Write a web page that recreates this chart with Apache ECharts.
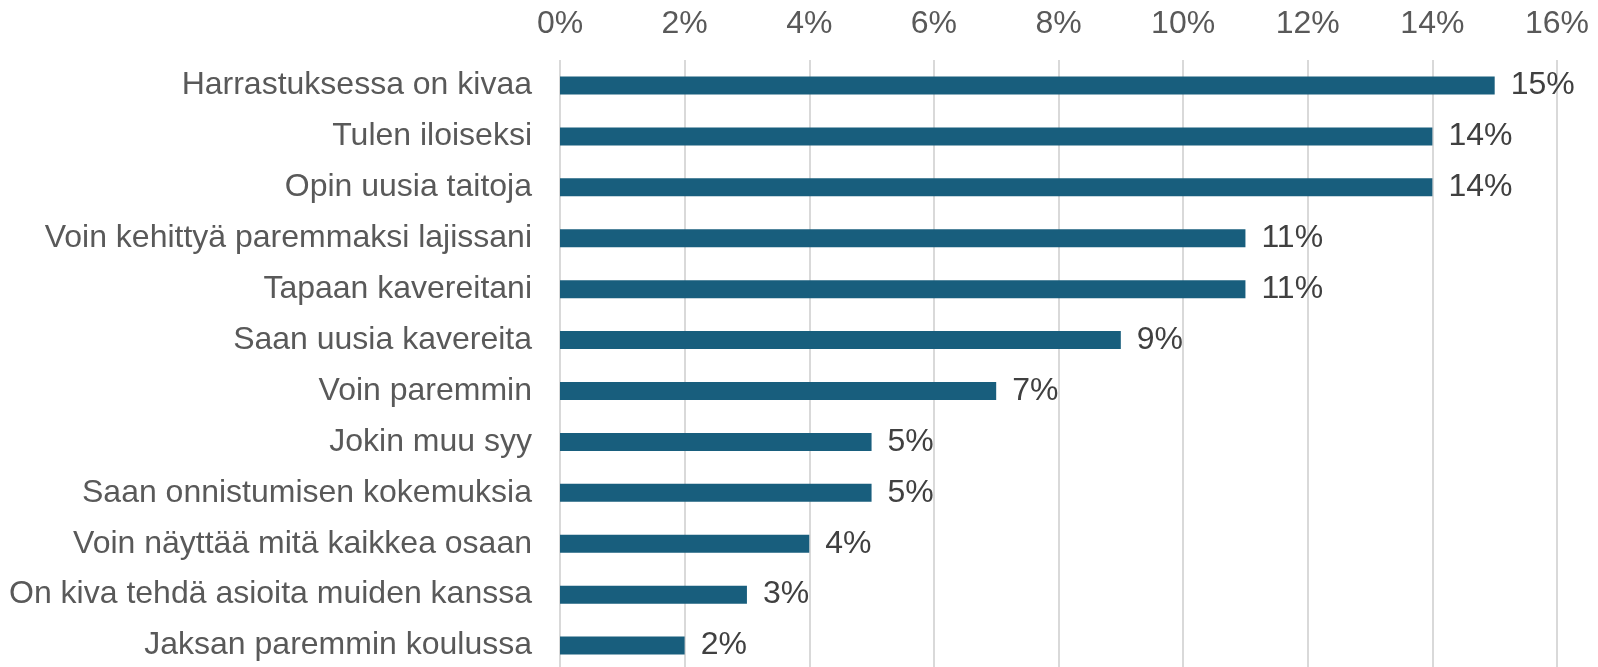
<!DOCTYPE html>
<html>
<head>
<meta charset="utf-8">
<script src="https://cdn.jsdelivr.net/npm/echarts@6/dist/echarts.min.js"></script>
<style>
html,body{margin:0;padding:0;background:#fff;}
#chart{width:1598px;height:667px;}
</style>
</head>
<body>
<div id="chart"></div>
<script>
const categories = [
  "Harrastuksessa on kivaa",
  "Tulen iloiseksi",
  "Opin uusia taitoja",
  "Voin kehittyä paremmaksi lajissani",
  "Tapaan kavereitani",
  "Saan uusia kavereita",
  "Voin paremmin",
  "Jokin muu syy",
  "Saan onnistumisen kokemuksia",
  "Voin näyttää mitä kaikkea osaan",
  "On kiva tehdä asioita muiden kanssa",
  "Jaksan paremmin koulussa"
];
const values = [15, 14, 14, 11, 11, 9, 7, 5, 5, 4, 3, 2];
const axisMin = 0, axisMax = 16, axisInterval = 2;

const chart = echarts.init(document.getElementById('chart'), null, {renderer: 'canvas'});
chart.setOption({
  animation: false,
  backgroundColor: '#ffffff',
  grid: {left: 560, right: 41, top: 60, height: 611, containLabel: false, outerBoundsMode: 'none'},
  xAxis: {
    type: 'value',
    position: 'top',
    min: axisMin, max: axisMax, interval: axisInterval,
    axisLine: {show: false},
    axisTick: {show: false},
    axisLabel: {
      formatter: v => v + '%',
      fontFamily: 'Liberation Sans, Arial, sans-serif',
      fontSize: 32,
      color: '#595959',
      margin: 20
    },
    splitLine: {show: true, lineStyle: {color: '#d9d9d9', width: 2}}
  },
  yAxis: {
    type: 'category',
    data: categories,
    inverse: true,
    axisLine: {show: false},
    axisTick: {show: false},
    axisLabel: {
      fontFamily: 'Liberation Sans, Arial, sans-serif',
      fontSize: 32,
      color: '#595959',
      margin: 28
    }
  },
  series: [{
    type: 'bar',
    data: values,
    barWidth: 18,
    itemStyle: {color: '#185e7d'},
    label: {
      show: true,
      position: 'right',
      distance: 16,
      formatter: p => p.value + '%',
      fontFamily: 'Liberation Sans, Arial, sans-serif',
      fontSize: 32,
      color: '#404040'
    }
  }]
});
</script>
</body>
</html>
